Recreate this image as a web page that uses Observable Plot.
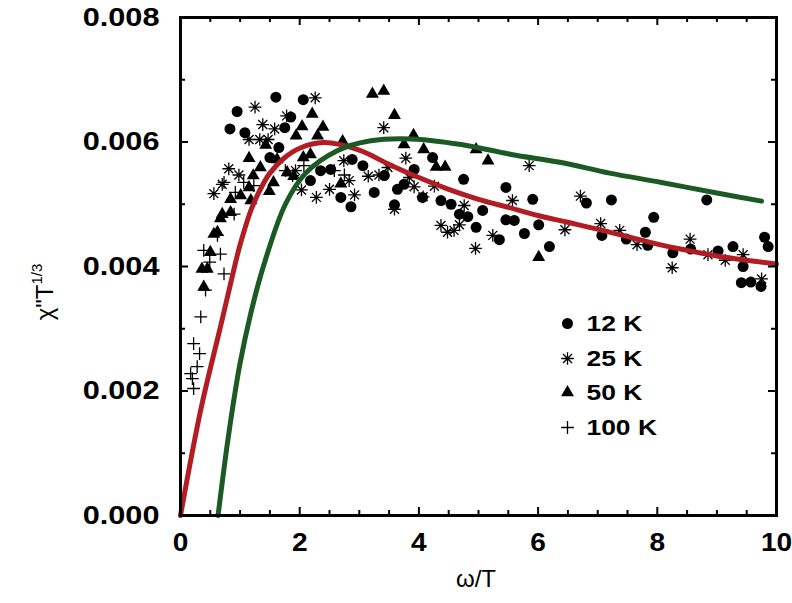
<!DOCTYPE html>
<html><head><meta charset="utf-8">
<script src="https://cdn.jsdelivr.net/npm/d3@7"></script>
<script src="https://cdn.jsdelivr.net/npm/@observablehq/plot@0.6"></script>
<style>body{margin:0;background:#fff;}</style>
</head><body><div id="chart"></div>
<script>
// ---- data (x = ω/T, y = χ''T^1/3) ----
const pts12K = [[0.83,0.00621],[0.95,0.00649],[1.08,0.00615],[1.50,0.00575],[1.60,0.00672],[1.65,0.00591],[1.75,0.00623],[1.85,0.00640],[2.06,0.00668],[2.18,0.00538],[2.35,0.00554],[2.52,0.00556],[2.69,0.00511],[2.86,0.00496],[2.88,0.00572],[3.06,0.00562],[3.25,0.00519],[3.42,0.00546],[3.59,0.00499],[3.64,0.00524],[3.75,0.00532],[3.92,0.00556],[4.06,0.00511],[4.23,0.00575],[4.37,0.00506],[4.54,0.00500],[4.68,0.00484],[4.75,0.00540],[4.82,0.00480],[4.96,0.00463],[5.07,0.00490],[5.35,0.00443],[5.46,0.00527],[5.46,0.00475],[5.60,0.00474],[5.77,0.00453],[5.91,0.00508],[6.01,0.00467],[6.19,0.00432],[6.81,0.00502],[7.07,0.00450],[7.23,0.00507],[7.48,0.00444],[7.80,0.00455],[7.84,0.00434],[7.94,0.00479],[8.26,0.00422],[8.56,0.00428],[8.83,0.00507],[9.02,0.00425],[9.27,0.00432],[9.41,0.00374],[9.44,0.00400],[9.57,0.00375],[9.74,0.00368],[9.80,0.00447],[9.86,0.00432]];
const pts25K = [[0.56,0.00517],[0.70,0.00532],[0.81,0.00557],[0.98,0.00547],[1.15,0.00604],[1.25,0.00656],[1.33,0.00604],[1.38,0.00628],[1.47,0.00604],[1.58,0.00621],[1.78,0.00642],[1.93,0.00554],[2.03,0.00523],[2.26,0.00671],[2.28,0.00511],[2.50,0.00524],[2.74,0.00570],[2.83,0.00538],[2.92,0.00515],[3.15,0.00545],[3.33,0.00547],[3.41,0.00623],[3.48,0.00559],[3.59,0.00492],[3.78,0.00574],[3.84,0.00543],[3.92,0.00528],[4.07,0.00512],[4.26,0.00529],[4.37,0.00466],[4.48,0.00455],[4.59,0.00458],[4.68,0.00467],[4.76,0.00498],[4.95,0.00429],[5.24,0.00450],[5.57,0.00506],[5.85,0.00562],[6.45,0.00459],[6.71,0.00513],[7.05,0.00469],[7.37,0.00458],[7.66,0.00435],[8.25,0.00398],[8.55,0.00444],[8.85,0.00419],[9.14,0.00410],[9.44,0.00419],[9.75,0.00380]];
const pts50K = [[0.36,0.00396],[0.39,0.00367],[0.45,0.00396],[0.50,0.00423],[0.56,0.00452],[0.62,0.00455],[0.67,0.00477],[0.70,0.00484],[0.84,0.00487],[0.84,0.00508],[1.01,0.00514],[1.15,0.00527],[1.15,0.00574],[1.18,0.00506],[1.22,0.00546],[1.34,0.00559],[1.43,0.00595],[1.49,0.00521],[1.56,0.00535],[1.62,0.00572],[1.79,0.00551],[1.90,0.00545],[1.94,0.00610],[2.04,0.00625],[2.06,0.00575],[2.18,0.00580],[2.21,0.00645],[2.30,0.00610],[2.39,0.00624],[2.69,0.00533],[2.72,0.00601],[3.22,0.00677],[3.41,0.00682],[3.59,0.00643],[3.75,0.00596],[3.91,0.00611],[4.08,0.00588],[4.29,0.00560],[4.44,0.00560],[4.96,0.00588],[5.16,0.00570],[6.01,0.00415]];
const pts100K = [[0.17,0.00228],[0.20,0.00220],[0.22,0.00204],[0.22,0.00276],[0.28,0.00239],[0.32,0.00260],[0.34,0.00319],[0.39,0.00426],[0.42,0.00362],[0.49,0.00407],[0.62,0.00450],[0.67,0.00420],[0.73,0.00388],[0.73,0.00535],[0.90,0.00484],[0.92,0.00519],[1.06,0.00535],[1.23,0.00530],[1.76,0.00554],[1.88,0.00546],[2.07,0.00562],[2.58,0.00554],[2.75,0.00547]];

const redX = [0,0.34,0.67,0.92,1.0,1.2,1.4,1.5,1.75,2.0,2.4,3.0,3.5,4.0,4.5,5.0,5.5,6.0,6.5,7.0,7.5,8.0,8.5,9.0,9.5,10];
const redY = [0,0.00170,0.00303,0.00405,0.00435,0.00495,0.00535,0.00550,0.00575,0.00590,0.00599,0.00587,0.00564,0.00543,0.00524,0.00508,0.00495,0.00482,0.00471,0.00460,0.00448,0.00436,0.00426,0.00417,0.00410,0.00404];
const greenX = [0.63,0.75,0.87,1.0,1.18,1.39,1.76,2.1,2.63,3.19,3.87,4.71,5.55,6.39,7.2,8.07,9.0,9.75];
const greenY = [0,0.00090,0.00170,0.00245,0.00325,0.00400,0.00500,0.00550,0.00586,0.00602,0.00605,0.00596,0.00580,0.00567,0.00550,0.00535,0.00518,0.00505];

const xMajor = [0,2,4,6,8,10];
const xMinor = [0.5,1,1.5,2.5,3,3.5,4.5,5,5.5,6.5,7,7.5,8.5,9,9.5];
const yMajor = [0,0.002,0.004,0.006,0.008];
const yMinor = [0.001,0.003,0.005,0.007];
const yTickLabels = ["0.000","0.002","0.004","0.006","0.008"];
const legendLabels = ["12 K","25 K","50 K","100 K"];

// ---- layout ----
const W = 792, H = 603, mL = 180, mR = 16, mT = 17, mB = 88;
const pw = W - mL - mR, ph = H - mT - mB;

const asterisk8 = {draw(ctx, size){const r=Math.sqrt(size)*0.78, d=r*Math.SQRT1_2;
  ctx.moveTo(-r,0);ctx.lineTo(r,0);ctx.moveTo(0,-r);ctx.lineTo(0,r);
  ctx.moveTo(-d,-d);ctx.lineTo(d,d);ctx.moveTo(-d,d);ctx.lineTo(d,-d);}};
const plusSym = {draw(ctx, size){const r=Math.sqrt(size)*0.8;
  ctx.moveTo(-r,0);ctx.lineTo(r,0);ctx.moveTo(0,-r);ctx.lineTo(0,r);}};

const series = [
  {data: pts12K, symbol: "circle", r: 5.5, fill: "black", stroke: "none", sw: 0},
  {data: pts25K, symbol: asterisk8, r: 4.6, fill: "none", stroke: "black", sw: 1.3},
  {data: pts50K, symbol: "triangle", r: 4.8, fill: "black", stroke: "none", sw: 0},
  {data: pts100K, symbol: plusSym, r: 4.5, fill: "none", stroke: "black", sw: 1.3}
];

const legendRowY = [323, 358, 392, 427];
const legendMarks = series.flatMap((s, i) => [
  Plot.dot([0], {frameAnchor: "top-left", dx: 567 - mL, dy: legendRowY[i] - mT,
    symbol: s.symbol, r: s.r, fill: s.fill, stroke: s.stroke, strokeWidth: s.sw}),
  Plot.text([legendLabels[i]], {frameAnchor: "top-left", dx: 586 - mL, dy: legendRowY[i] - mT,
    text: d => d, textAnchor: "start", lineAnchor: "middle", fontSize: 22, fontWeight: "bold",
    fill: "black", className: "legtext"})
]);

const svg = Plot.plot({
  width: W, height: H,
  marginLeft: mL, marginRight: mR, marginTop: mT, marginBottom: mB,
  style: {fontFamily: "'Liberation Sans', Arial, sans-serif", background: "white", color: "black", overflow: "visible"},
  x: {domain: [0, 10]},
  y: {domain: [0, 0.008]},
  marks: [
    ...series.map(s => Plot.dot(s.data, {x: d => d[0], y: d => d[1], symbol: s.symbol, r: s.r,
      fill: s.fill, stroke: s.stroke, strokeWidth: s.sw})),
    Plot.line(redY, {x: redX, y: redY, curve: "catmull-rom", stroke: "#b11d22", strokeWidth: 5}),
    Plot.line(greenY, {x: greenX, y: greenY, curve: "catmull-rom", stroke: "#1b5a22", strokeWidth: 5}),
    // inward ticks on all four sides
    Plot.tickY(yMajor, {y: d => d, insetRight: pw - 8, strokeWidth: 2}),
    Plot.tickY(yMinor, {y: d => d, insetRight: pw - 5, strokeWidth: 2}),
    Plot.tickY(yMajor, {y: d => d, insetLeft: pw - 8, strokeWidth: 2}),
    Plot.tickY(yMinor, {y: d => d, insetLeft: pw - 5, strokeWidth: 2}),
    Plot.tickX(xMajor, {x: d => d, insetTop: ph - 8, strokeWidth: 2}),
    Plot.tickX(xMinor, {x: d => d, insetTop: ph - 5, strokeWidth: 2}),
    Plot.tickX(xMajor, {x: d => d, insetBottom: ph - 8, strokeWidth: 2}),
    Plot.tickX(xMinor, {x: d => d, insetBottom: ph - 5, strokeWidth: 2}),
    Plot.frame({stroke: "black", strokeWidth: 3}),
    Plot.axisY(yMajor, {tickSize: 0, tickPadding: 21, tickFormat: (d, i) => yTickLabels[i],
      fontSize: 26, fontWeight: "bold", label: null}),
    Plot.axisX(xMajor, {tickSize: 0, tickPadding: 17, fontSize: 26, fontWeight: "bold", label: null}),
    ...legendMarks
  ]
});
document.getElementById("chart").append(svg);

// axis titles
const sel = d3.select(svg);
sel.append("text").attr("x", 476).attr("y", 587).attr("text-anchor", "middle")
  .attr("font-size", 24).attr("font-family", "'Liberation Sans', Arial, sans-serif").text("ω/T");
const yt = sel.append("text").attr("transform", "translate(53,292) rotate(-90)")
  .attr("font-size", 24).attr("font-family", "'Liberation Sans', Arial, sans-serif");
yt.append("tspan").text("χ\"T");
yt.append("tspan").attr("dy", -11).attr("font-size", 15).text("1/3");

// widen the bold labels like the original's extended typeface
function stretch(nodes, k) {
  nodes.forEach(t => { const w = t.getComputedTextLength();
    t.setAttribute("textLength", w * k); t.setAttribute("lengthAdjust", "spacingAndGlyphs"); });
}
stretch(svg.querySelectorAll('g[aria-label="y-axis tick label"] text'), 1.18);
stretch(svg.querySelectorAll('g[aria-label="x-axis tick label"] text'), 1.08);
stretch(svg.querySelectorAll('.legtext text'), 1.2);
</script></body></html>
